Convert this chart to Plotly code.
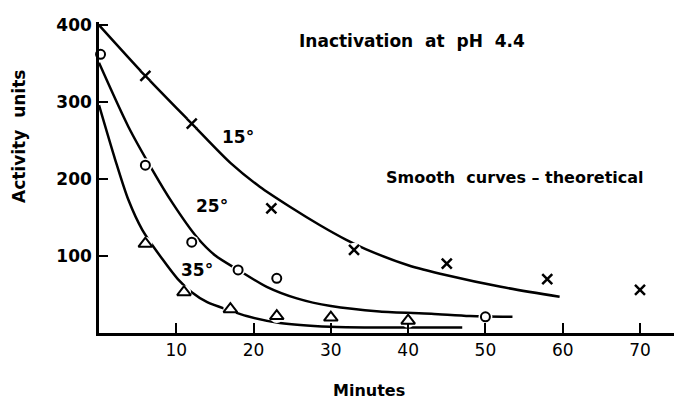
import plotly.graph_objects as go

# observed points, minutes vs activity units
min_15 = [6, 12, 22.3, 33, 45, 58, 70]
act_15 = [334, 272, 162, 108, 90, 70, 56]
min_25 = [0.2, 6, 12, 18, 23, 50]
act_25 = [362, 218, 118, 82, 71, 21]
min_35 = [6, 11, 17, 23, 30, 40]
act_35 = [116, 53, 31, 22, 20, 16]

# theoretical curves
curve_min_15 = [0, 6, 12, 17, 20.8, 24.7, 28.6, 32, 34.5, 40, 45, 52, 59.6]
curve_act_15 = [400, 334, 272, 221, 190, 164, 140, 121, 109, 88, 75, 60, 47]
curve_min_25 = [0, 3.8, 6.9, 9.5, 12.7, 15, 18, 21.7, 25.6, 30, 36.3, 43, 48, 53.5]
curve_act_25 = [351, 268, 212, 169, 124, 101, 82, 60, 45, 35, 28, 25, 22, 21]
curve_min_35 = [0, 2.1, 3.8, 5.6, 8.2, 10.2, 12, 14, 17, 19.1, 23.4, 29.9, 36.3, 47]
curve_act_35 = [296, 225, 173, 134, 96, 70, 53, 40, 29, 22, 13, 8, 7, 7]

x_ticks = [10, 20, 30, 40, 50, 60, 70]
y_ticks = [100, 200, 300, 400]

FONT = "DejaVu Sans"

W, H = 674, 401
L, T, B = 99, 22, 68


def to_paper(px, py):
    # page pixel -> paper coords of the plot area
    pw = W - L
    ph = H - T - B
    return (px - L) / pw, 1 - (py - T) / ph


fig = go.Figure()

for xs, ys in [(curve_min_15, curve_act_15), (curve_min_25, curve_act_25), (curve_min_35, curve_act_35)]:
    fig.add_trace(
        go.Scatter(
            x=xs, y=ys, mode="lines",
            line=dict(color="black", width=2.5, shape="spline", smoothing=0.8),
            showlegend=False, hoverinfo="skip",
        )
    )

# white halos so the curves break around the symbols, like the original
for xs, ys in [(min_15, act_15), (min_25, act_25), (min_35, act_35)]:
    fig.add_trace(
        go.Scatter(
            x=xs, y=ys, mode="markers",
            marker=dict(symbol="circle", size=14, color="white", line=dict(width=0)),
            showlegend=False, hoverinfo="skip", cliponaxis=False,
        )
    )

fig.add_trace(
    go.Scatter(
        x=min_15, y=act_15, mode="markers", name="15°",
        marker=dict(symbol="x-thin-open", size=10, color="black", line=dict(color="black", width=2.5)),
        cliponaxis=False,
    )
)
fig.add_trace(
    go.Scatter(
        x=min_25, y=act_25, mode="markers", name="25°",
        marker=dict(symbol="circle-open", size=9, color="black", line=dict(color="black", width=2)),
        cliponaxis=False,
    )
)
fig.add_trace(
    go.Scatter(
        x=min_35, y=act_35, mode="markers", name="35°",
        marker=dict(symbol="triangle-up-open", size=12, color="black", line=dict(color="black", width=2)),
        cliponaxis=False,
    )
)

labels = [
    (238, 137, "15°", 17),
    (212, 206, "25°", 17),
    (197, 270, "35°", 17),
    (412, 41, "Inactivation  at  pH  4.4", 17),
    (515, 177, "Smooth  curves – theoretical", 16),
    (369, 390, "Minutes", 16),
]
for px_x, px_y, txt, sz in labels:
    ax, ay = to_paper(px_x, px_y)
    fig.add_annotation(
        x=ax, y=ay, xref="paper", yref="paper",
        xanchor="center", yanchor="middle",
        text=txt, showarrow=False,
        font=dict(family=FONT, size=sz, color="black", weight="bold"),
    )

ax, ay = to_paper(19, 137)
fig.add_annotation(
    x=ax, y=ay, xref="paper", yref="paper",
    xanchor="center", yanchor="middle",
    text="Activity  units", showarrow=False, textangle=-90,
    font=dict(family=FONT, size=17, color="black", weight="bold"),
)

fig.update_layout(
    width=W,
    height=H,
    margin=dict(l=L, r=0, t=T, b=B, autoexpand=False),
    paper_bgcolor="white",
    plot_bgcolor="white",
    showlegend=False,
    font=dict(family=FONT, size=17, color="black"),
    xaxis=dict(
        range=[0, 74.4],
        tickvals=x_ticks,
        ticks="inside", ticklen=10, tickwidth=2, tickcolor="black",
        showline=True, linewidth=2.5, linecolor="black",
        showgrid=False, zeroline=False,
        ticklabelstandoff=0,
        tickfont=dict(family=FONT, size=17, color="black"),
    ),
    yaxis=dict(
        range=[0, 404],
        tickvals=y_ticks,
        ticks="inside", ticklen=9, tickwidth=2, tickcolor="black",
        showline=True, linewidth=2.5, linecolor="black",
        showgrid=False, zeroline=False,
        ticklabelstandoff=1,
        tickfont=dict(family=FONT, size=17, color="black", weight="bold"),
    ),
)

# drop the default page margin so the 674x401 figure fills the window
fig.write_html(
    "out.html",
    config={"displayModeBar": False},
    post_script="document.body.style.margin = '0';",
)
